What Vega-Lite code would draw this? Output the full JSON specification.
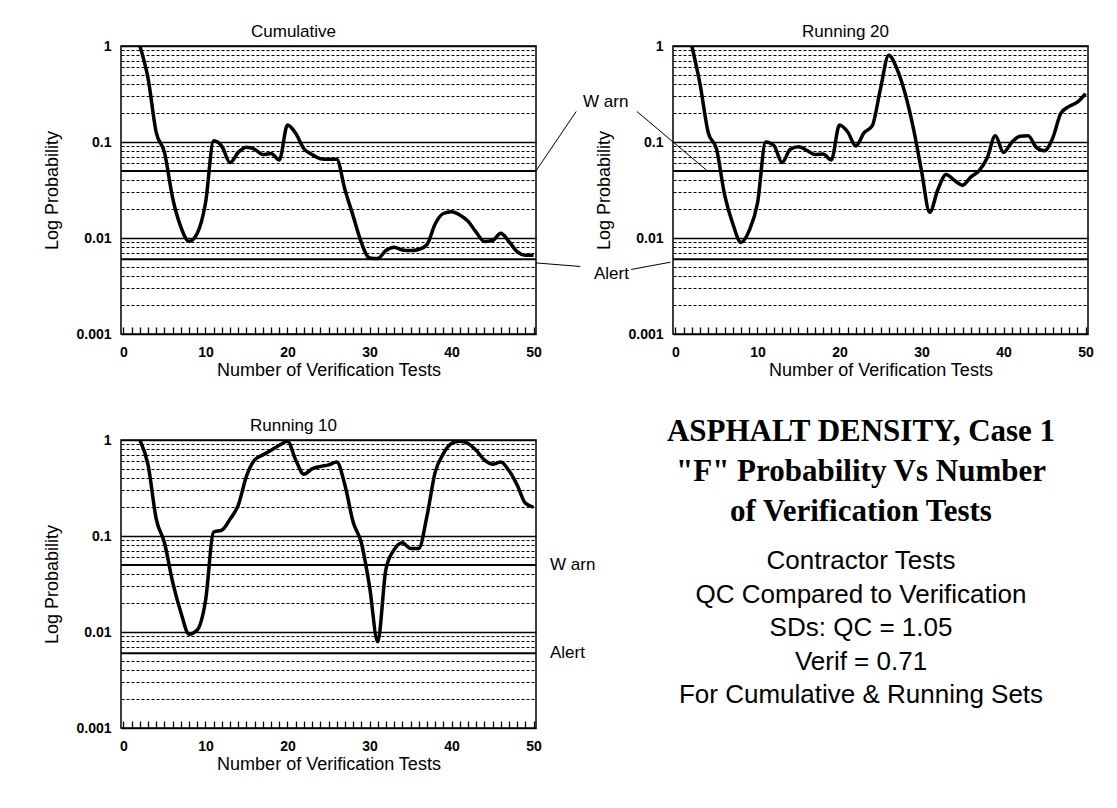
{
  "$schema": "https://vega.github.io/schema/vega-lite/v6.json",
  "autosize": {"type": "pad"},
  "padding": {"left": 43, "top": 22, "right": 5, "bottom": 5},
  "background": "white",
  "config": {
    "font": "Liberation Sans",
    "view": {"stroke": "black", "strokeWidth": 1.5},
    "axis": {"labelFont": "Liberation Sans", "labelFontWeight": "bold", "labelFontSize": 14, "labelColor": "black", "titleFont": "Liberation Sans", "titleFontSize": 18, "titleFontWeight": "normal", "titleColor": "black", "domain": false},
    "title": {"font": "Liberation Sans", "fontSize": 17, "fontWeight": "normal", "color": "black", "frame": "group", "anchor": "middle", "dx": -35, "offset": -2}
  },
  "datasets": {
    "cumulative": [
      {"n": 2, "p": 1.0}, {"n": 3, "p": 0.46}, {"n": 4, "p": 0.125}, {"n": 5, "p": 0.078}, {"n": 6, "p": 0.026},
      {"n": 7, "p": 0.013}, {"n": 8, "p": 0.0092}, {"n": 9, "p": 0.0112}, {"n": 10, "p": 0.023}, {"n": 11, "p": 0.103},
      {"n": 12, "p": 0.09}, {"n": 13, "p": 0.061}, {"n": 14, "p": 0.078}, {"n": 15, "p": 0.088}, {"n": 16, "p": 0.084},
      {"n": 17, "p": 0.074}, {"n": 18, "p": 0.076}, {"n": 19, "p": 0.065}, {"n": 20, "p": 0.15}, {"n": 21, "p": 0.123},
      {"n": 22, "p": 0.085}, {"n": 23, "p": 0.074}, {"n": 24, "p": 0.067}, {"n": 25, "p": 0.066}, {"n": 26, "p": 0.066},
      {"n": 27, "p": 0.032}, {"n": 28, "p": 0.017}, {"n": 29, "p": 0.009}, {"n": 30, "p": 0.0062}, {"n": 31, "p": 0.0061},
      {"n": 32, "p": 0.0074}, {"n": 33, "p": 0.008}, {"n": 34, "p": 0.0075}, {"n": 35, "p": 0.0074}, {"n": 36, "p": 0.0076},
      {"n": 37, "p": 0.0085}, {"n": 38, "p": 0.014}, {"n": 39, "p": 0.018}, {"n": 40, "p": 0.0188}, {"n": 41, "p": 0.0174},
      {"n": 42, "p": 0.015}, {"n": 43, "p": 0.0115}, {"n": 44, "p": 0.0092}, {"n": 45, "p": 0.0094}, {"n": 46, "p": 0.0112},
      {"n": 47, "p": 0.0092}, {"n": 48, "p": 0.0072}, {"n": 49, "p": 0.0066}, {"n": 50, "p": 0.0066}
    ],
    "running20": [
      {"n": 2, "p": 1.0}, {"n": 3, "p": 0.4}, {"n": 4, "p": 0.125}, {"n": 5, "p": 0.085}, {"n": 6, "p": 0.028},
      {"n": 7, "p": 0.014}, {"n": 8, "p": 0.009}, {"n": 9, "p": 0.012}, {"n": 10, "p": 0.023}, {"n": 11, "p": 0.1},
      {"n": 12, "p": 0.092}, {"n": 13, "p": 0.061}, {"n": 14, "p": 0.084}, {"n": 15, "p": 0.089}, {"n": 16, "p": 0.082},
      {"n": 17, "p": 0.074}, {"n": 18, "p": 0.075}, {"n": 19, "p": 0.065}, {"n": 20, "p": 0.15}, {"n": 21, "p": 0.127},
      {"n": 22, "p": 0.091}, {"n": 23, "p": 0.125}, {"n": 24, "p": 0.148}, {"n": 25, "p": 0.36}, {"n": 26, "p": 0.8},
      {"n": 27, "p": 0.58}, {"n": 28, "p": 0.32}, {"n": 29, "p": 0.14}, {"n": 30, "p": 0.05}, {"n": 31, "p": 0.0185},
      {"n": 32, "p": 0.032}, {"n": 33, "p": 0.046}, {"n": 34, "p": 0.04}, {"n": 35, "p": 0.0355}, {"n": 36, "p": 0.043},
      {"n": 37, "p": 0.05}, {"n": 38, "p": 0.068}, {"n": 39, "p": 0.116}, {"n": 40, "p": 0.078}, {"n": 41, "p": 0.099},
      {"n": 42, "p": 0.115}, {"n": 43, "p": 0.116}, {"n": 44, "p": 0.088}, {"n": 45, "p": 0.081}, {"n": 46, "p": 0.11},
      {"n": 47, "p": 0.2}, {"n": 48, "p": 0.235}, {"n": 49, "p": 0.26}, {"n": 50, "p": 0.32}
    ],
    "running10": [
      {"n": 2, "p": 1.0}, {"n": 3, "p": 0.55}, {"n": 4, "p": 0.15}, {"n": 5, "p": 0.085}, {"n": 6, "p": 0.033},
      {"n": 7, "p": 0.016}, {"n": 8, "p": 0.0095}, {"n": 9, "p": 0.0105}, {"n": 10, "p": 0.021}, {"n": 11, "p": 0.11},
      {"n": 12, "p": 0.115}, {"n": 13, "p": 0.15}, {"n": 14, "p": 0.21}, {"n": 15, "p": 0.42}, {"n": 16, "p": 0.62},
      {"n": 17, "p": 0.7}, {"n": 18, "p": 0.78}, {"n": 19, "p": 0.88}, {"n": 20, "p": 0.97}, {"n": 21, "p": 0.62},
      {"n": 22, "p": 0.44}, {"n": 23, "p": 0.5}, {"n": 24, "p": 0.53}, {"n": 25, "p": 0.55}, {"n": 26, "p": 0.59},
      {"n": 27, "p": 0.34}, {"n": 28, "p": 0.14}, {"n": 29, "p": 0.085}, {"n": 30, "p": 0.03}, {"n": 31, "p": 0.0079},
      {"n": 32, "p": 0.045}, {"n": 33, "p": 0.072}, {"n": 34, "p": 0.085}, {"n": 35, "p": 0.074}, {"n": 36, "p": 0.074},
      {"n": 37, "p": 0.16}, {"n": 38, "p": 0.46}, {"n": 39, "p": 0.72}, {"n": 40, "p": 0.92}, {"n": 41, "p": 0.97},
      {"n": 42, "p": 0.92}, {"n": 43, "p": 0.78}, {"n": 44, "p": 0.62}, {"n": 45, "p": 0.56}, {"n": 46, "p": 0.59},
      {"n": 47, "p": 0.48}, {"n": 48, "p": 0.34}, {"n": 49, "p": 0.22}, {"n": 50, "p": 0.2}
    ],
    "limits": [
      {"label": "W arn", "p": 0.05},
      {"label": "Alert", "p": 0.006}
    ]
  },
  "bounds": "flush",
  "columns": 2,
  "spacing": {"row": 106, "column": 137},
  "concat": [
    {
      "width": 415, "height": 288,
      "title": {"text": "Cumulative"},
      "layer": [
        {"data": {"name": "limits"}, "mark": {"type": "rule", "strokeWidth": 2, "color": "black"}, "encoding": {"y": {"field": "p", "type": "quantitative"}}},
        {"data": {"values": [{}]}, "mark": {"type": "rule", "strokeWidth": 1, "color": "black", "clip": false}, "encoding": {"x": {"datum": 55.2}, "y": {"datum": 0.208}, "x2": {"datum": 50.3}, "y2": {"datum": 0.05}}},
        {"data": {"values": [{}]}, "mark": {"type": "rule", "strokeWidth": 1, "color": "black", "clip": false}, "encoding": {"x": {"datum": 62.6}, "y": {"datum": 0.208}, "x2": {"datum": 71.2}, "y2": {"datum": 0.05}}},
        {"data": {"values": [{}]}, "mark": {"type": "rule", "strokeWidth": 1, "color": "black", "clip": false}, "encoding": {"x": {"datum": 55.7}, "y": {"datum": 0.00505}, "x2": {"datum": 50.3}, "y2": {"datum": 0.0055}}},
        {"data": {"values": [{}]}, "mark": {"type": "rule", "strokeWidth": 1, "color": "black", "clip": false}, "encoding": {"x": {"datum": 61.9}, "y": {"datum": 0.0047}, "x2": {"datum": 66.7}, "y2": {"datum": 0.0056}}},
        {"data": {"values": [{}]}, "mark": {"type": "text", "text": "W arn", "font": "Liberation Sans", "fontSize": 17, "color": "black", "align": "center", "baseline": "middle", "clip": false}, "encoding": {"x": {"datum": 58.8}, "y": {"datum": 0.258}}},
        {"data": {"values": [{}]}, "mark": {"type": "text", "text": "Alert", "font": "Liberation Sans", "fontSize": 17, "color": "black", "align": "center", "baseline": "middle", "clip": false}, "encoding": {"x": {"datum": 59.5}, "y": {"datum": 0.0042}}},
        {
          "data": {"name": "cumulative"},
          "mark": {"type": "line", "interpolate": "monotone", "strokeWidth": 3.5, "color": "black", "clip": true},
          "encoding": {
            "x": {"field": "n", "type": "quantitative", "scale": {"domain": [-0.3, 50.3], "nice": false, "zero": false},
              "axis": {"title": "Number of Verification Tests", "tickCount": 50, "labelExpr": "datum.value % 10 === 0 ? datum.label : ''", "grid": false, "ticks": true, "tickSize": -7, "tickWidth": 1.3, "tickColor": "black", "labelPadding": 18, "labelFlush": false, "labelOverlap": false, "labelBound": false, "titlePadding": 2}},
            "y": {"field": "p", "type": "quantitative", "scale": {"type": "log", "domain": [0.001, 1], "nice": false},
              "axis": {"title": "Log  Probability", "values": [0.001, 0.002, 0.003, 0.004, 0.005, 0.006, 0.007, 0.008, 0.009, 0.01, 0.02, 0.03, 0.04, 0.05, 0.06, 0.07, 0.08, 0.09, 0.1, 0.2, 0.3, 0.4, 0.5, 0.6, 0.7, 0.8, 0.9, 1],
                "labelExpr": "datum.value === 1 ? '1' : datum.value === 0.1 ? '0.1' : datum.value === 0.01 ? '0.01' : datum.value === 0.001 ? '0.001' : ''",
                "grid": true, "gridColor": "black",
                "gridDash": {"condition": {"test": "datum.value === 1 || datum.value === 0.1 || datum.value === 0.01 || datum.value === 0.001", "value": []}, "value": [3, 2]},
                "gridWidth": {"condition": {"test": "datum.value === 1 || datum.value === 0.1 || datum.value === 0.01 || datum.value === 0.001", "value": 1.6}, "value": 1.1},
                "ticks": false, "labelPadding": 10, "labelFlush": false, "labelOverlap": false, "labelBound": false, "titlePadding": 14}}
          }
        }
      ]
    },
    {
      "width": 415, "height": 288,
      "title": {"text": "Running 20"},
      "layer": [
        {"data": {"name": "limits"}, "mark": {"type": "rule", "strokeWidth": 2, "color": "black"}, "encoding": {"y": {"field": "p", "type": "quantitative"}}},
        {
          "data": {"name": "running20"},
          "mark": {"type": "line", "interpolate": "monotone", "strokeWidth": 3.5, "color": "black", "clip": true},
          "encoding": {
            "x": {"field": "n", "type": "quantitative", "scale": {"domain": [-0.3, 50.3], "nice": false, "zero": false},
              "axis": {"title": "Number of Verification Tests", "tickCount": 50, "labelExpr": "datum.value % 10 === 0 ? datum.label : ''", "grid": false, "ticks": true, "tickSize": -7, "tickWidth": 1.3, "tickColor": "black", "labelPadding": 18, "labelFlush": false, "labelOverlap": false, "labelBound": false, "titlePadding": 2}},
            "y": {"field": "p", "type": "quantitative", "scale": {"type": "log", "domain": [0.001, 1], "nice": false},
              "axis": {"title": "Log  Probability", "values": [0.001, 0.002, 0.003, 0.004, 0.005, 0.006, 0.007, 0.008, 0.009, 0.01, 0.02, 0.03, 0.04, 0.05, 0.06, 0.07, 0.08, 0.09, 0.1, 0.2, 0.3, 0.4, 0.5, 0.6, 0.7, 0.8, 0.9, 1],
                "labelExpr": "datum.value === 1 ? '1' : datum.value === 0.1 ? '0.1' : datum.value === 0.01 ? '0.01' : datum.value === 0.001 ? '0.001' : ''",
                "grid": true, "gridColor": "black",
                "gridDash": {"condition": {"test": "datum.value === 1 || datum.value === 0.1 || datum.value === 0.01 || datum.value === 0.001", "value": []}, "value": [3, 2]},
                "gridWidth": {"condition": {"test": "datum.value === 1 || datum.value === 0.1 || datum.value === 0.01 || datum.value === 0.001", "value": 1.6}, "value": 1.1},
                "ticks": false, "labelPadding": 10, "labelFlush": false, "labelOverlap": false, "labelBound": false, "titlePadding": 14}}
          }
        }
      ]
    },
    {
      "width": 415, "height": 288,
      "title": {"text": "Running 10"},
      "layer": [
        {"data": {"name": "limits"}, "mark": {"type": "rule", "strokeWidth": 2, "color": "black"}, "encoding": {"y": {"field": "p", "type": "quantitative"}}},
        {"data": {"name": "limits"}, "mark": {"type": "text", "font": "Liberation Sans", "fontSize": 17, "color": "black", "align": "left", "baseline": "middle", "dx": 14, "clip": false}, "encoding": {"x": {"datum": 50.3}, "y": {"field": "p", "type": "quantitative"}, "text": {"field": "label"}}},
        {
          "data": {"name": "running10"},
          "mark": {"type": "line", "interpolate": "monotone", "strokeWidth": 3.5, "color": "black", "clip": true},
          "encoding": {
            "x": {"field": "n", "type": "quantitative", "scale": {"domain": [-0.3, 50.3], "nice": false, "zero": false},
              "axis": {"title": "Number of Verification Tests", "tickCount": 50, "labelExpr": "datum.value % 10 === 0 ? datum.label : ''", "grid": false, "ticks": true, "tickSize": -7, "tickWidth": 1.3, "tickColor": "black", "labelPadding": 18, "labelFlush": false, "labelOverlap": false, "labelBound": false, "titlePadding": 2}},
            "y": {"field": "p", "type": "quantitative", "scale": {"type": "log", "domain": [0.001, 1], "nice": false},
              "axis": {"title": "Log  Probability", "values": [0.001, 0.002, 0.003, 0.004, 0.005, 0.006, 0.007, 0.008, 0.009, 0.01, 0.02, 0.03, 0.04, 0.05, 0.06, 0.07, 0.08, 0.09, 0.1, 0.2, 0.3, 0.4, 0.5, 0.6, 0.7, 0.8, 0.9, 1],
                "labelExpr": "datum.value === 1 ? '1' : datum.value === 0.1 ? '0.1' : datum.value === 0.01 ? '0.01' : datum.value === 0.001 ? '0.001' : ''",
                "grid": true, "gridColor": "black",
                "gridDash": {"condition": {"test": "datum.value === 1 || datum.value === 0.1 || datum.value === 0.01 || datum.value === 0.001", "value": []}, "value": [3, 2]},
                "gridWidth": {"condition": {"test": "datum.value === 1 || datum.value === 0.1 || datum.value === 0.01 || datum.value === 0.001", "value": 1.6}, "value": 1.1},
                "ticks": false, "labelPadding": 10, "labelFlush": false, "labelOverlap": false, "labelBound": false, "titlePadding": 14}}
          }
        }
      ]
    },
    {
      "width": 376, "height": 288,
      "view": {"stroke": null},
      "data": {"values": [{}]},
      "mark": {"type": "text", "text": ""},
      "title": {
        "text": ["ASPHALT DENSITY, Case 1", "\"F\" Probability Vs Number", "of Verification Tests"],
        "subtitle": ["Contractor Tests", "QC Compared to Verification", "SDs: QC = 1.05", "Verif = 0.71", "For Cumulative & Running Sets"],
        "font": "Liberation Serif", "fontSize": 31, "fontWeight": "bold", "lineHeight": 40, "color": "black",
        "subtitleFont": "Liberation Sans", "subtitleFontSize": 26, "subtitleLineHeight": 33.5, "subtitleColor": "black", "subtitlePadding": 20,
        "anchor": "middle", "frame": "group", "dx": 0, "offset": -269
      }
    }
  ]
}
